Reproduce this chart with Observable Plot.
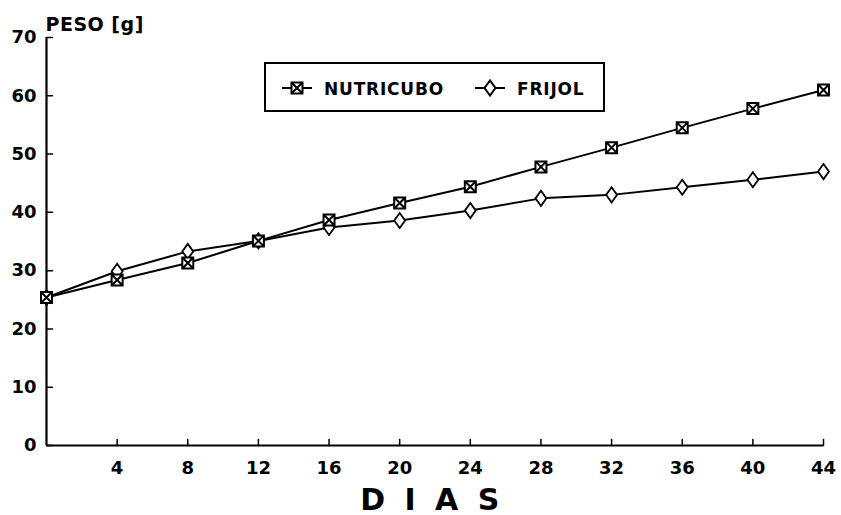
<!DOCTYPE html>
<html><head><meta charset="utf-8">
<script src="https://cdn.jsdelivr.net/npm/d3@7"></script>
<script src="https://cdn.jsdelivr.net/npm/@observablehq/plot@0.6"></script>
<style>
body{margin:0;background:#fff;}
#wrap{position:relative;width:841px;height:515px;overflow:hidden;}
#legend{position:absolute;left:264px;top:62px;}
</style></head><body><div id="wrap"></div>
<script>
const dias = [0, 4, 8, 12, 16, 20, 24, 28, 32, 36, 40, 44];
const nutricubo = [25.4, 28.4, 31.3, 35.1, 38.7, 41.6, 44.4, 47.8, 51.1, 54.5, 57.8, 61.0];
const frijol = [25.4, 29.9, 33.3, 35.1, 37.4, 38.6, 40.3, 42.4, 43.0, 44.3, 45.6, 47.0];
const series = ["NUTRICUBO", "FRIJOL"];
const xTicks = [4, 8, 12, 16, 20, 24, 28, 32, 36, 40, 44];
const yTicks = [0, 10, 20, 30, 40, 50, 60, 70];
const yLabel = "PESO [g]";
const xLabel = "D I A S";

const rows = [];
dias.forEach((d, i) => {
  rows.push({dia: d, peso: nutricubo[i], serie: series[0]});
  rows.push({dia: d, peso: frijol[i], serie: series[1]});
});

const FONT = "DejaVu Sans, sans-serif";

// custom symbols
const boxX = {
  draw(ctx, size) {
    const h = Math.sqrt(size) / 2;
    ctx.moveTo(-h, -h); ctx.lineTo(h, -h); ctx.lineTo(h, h); ctx.lineTo(-h, h); ctx.closePath();
    ctx.moveTo(-h, -h); ctx.lineTo(h, h);
    ctx.moveTo(h, -h); ctx.lineTo(-h, h);
  }
};
const tallDiamond = {
  draw(ctx, size) {
    const s = Math.sqrt(size);
    const w = s * 0.42, hh = s * 0.58;
    ctx.moveTo(0, -hh); ctx.lineTo(w, 0); ctx.lineTo(0, hh); ctx.lineTo(-w, 0); ctx.closePath();
  }
};
// plain tick shape for vectors
const tickShape = {
  draw(ctx, l) { ctx.moveTo(0, 0); ctx.lineTo(0, -l); }
};

const chart = Plot.plot({
  width: 841,
  height: 515,
  marginLeft: 46,
  marginRight: 18,
  marginTop: 37,
  marginBottom: 70,
  x: {domain: [0, 44]},
  y: {domain: [0, 70]},
  style: {fontFamily: FONT, fontWeight: "bold", color: "#000", background: "white", overflow: "visible"},
  marks: [
    Plot.axisY({ticks: yTicks, tickSize: 0, tickPadding: 10, fontSize: 18, fontWeight: "bold", label: null}),
    Plot.axisX({ticks: xTicks, tickSize: 0, tickPadding: 16, fontSize: 18, fontWeight: "bold", label: null}),
    Plot.vector(yTicks, {x: () => 0, y: d => d, rotate: 90, length: 6, anchor: "start", shape: tickShape, stroke: "black", strokeWidth: 1.5}),
    Plot.vector(xTicks, {x: d => d, y: () => 0, rotate: 0, length: 6, anchor: "start", shape: tickShape, stroke: "black", strokeWidth: 1.5}),
    Plot.ruleX([0], {strokeWidth: 2.2}),
    Plot.ruleY([0], {strokeWidth: 2.2}),
    Plot.line(rows, {x: "dia", y: "peso", z: "serie", stroke: "black", strokeWidth: 2}),
    Plot.dot(rows.filter(d => d.serie === series[1]), {x: "dia", y: "peso", symbol: tallDiamond, r: 13 / Math.sqrt(Math.PI), fill: "white", stroke: "black", strokeWidth: 1.8}),
    Plot.dot(rows.filter(d => d.serie === series[0]), {x: "dia", y: "peso", symbol: boxX, r: 11 / Math.sqrt(Math.PI), fill: "white", stroke: "black", strokeWidth: 2}),
    Plot.text([yLabel], {frameAnchor: "top-left", textAnchor: "start", dx: -1, dy: -20, fontSize: 19, fontWeight: "bold"}),
    Plot.text([xLabel], {frameAnchor: "bottom", dx: -3, dy: 64, fontSize: 30, fontWeight: "bold"})
  ]
});

const wrap = document.getElementById("wrap");
wrap.appendChild(chart);

// letter spacing for the two titles
d3.select(chart).selectAll("text").each(function () {
  if (this.textContent === xLabel) this.setAttribute("letter-spacing", 4.5);
  if (this.textContent === yLabel) this.setAttribute("letter-spacing", 0.5);
});

// legend
const ns = "http://www.w3.org/2000/svg";
const leg = document.createElementNS(ns, "svg");
leg.setAttribute("id", "legend");
leg.setAttribute("width", 342);
leg.setAttribute("height", 52);
leg.style.fontFamily = FONT;
const g = d3.select(leg);
g.append("rect").attr("x", 1).attr("y", 1).attr("width", 339).attr("height", 48)
  .attr("fill", "white").attr("stroke", "black").attr("stroke-width", 2);
const items = [
  {name: series[0], sym: boxX, size: 121, lx: 18, tx: 60},
  {name: series[1], sym: tallDiamond, size: 169, lx: 211, tx: 253}
];
items.forEach(it => {
  g.append("line").attr("x1", it.lx).attr("x2", it.lx + 30).attr("y1", 26).attr("y2", 26)
    .attr("stroke", "black").attr("stroke-width", 2);
  g.append("path").attr("d", d3.symbol(it.sym, it.size)()).attr("transform", `translate(${it.lx + 15},26)`)
    .attr("fill", "white").attr("stroke", "black").attr("stroke-width", 2);
  g.append("text").attr("x", it.tx).attr("y", 27).attr("dy", "0.35em").attr("font-size", 17)
    .attr("font-weight", "bold").attr("letter-spacing", 0.8).text(it.name);
});
wrap.appendChild(leg);
</script>
</body></html>
